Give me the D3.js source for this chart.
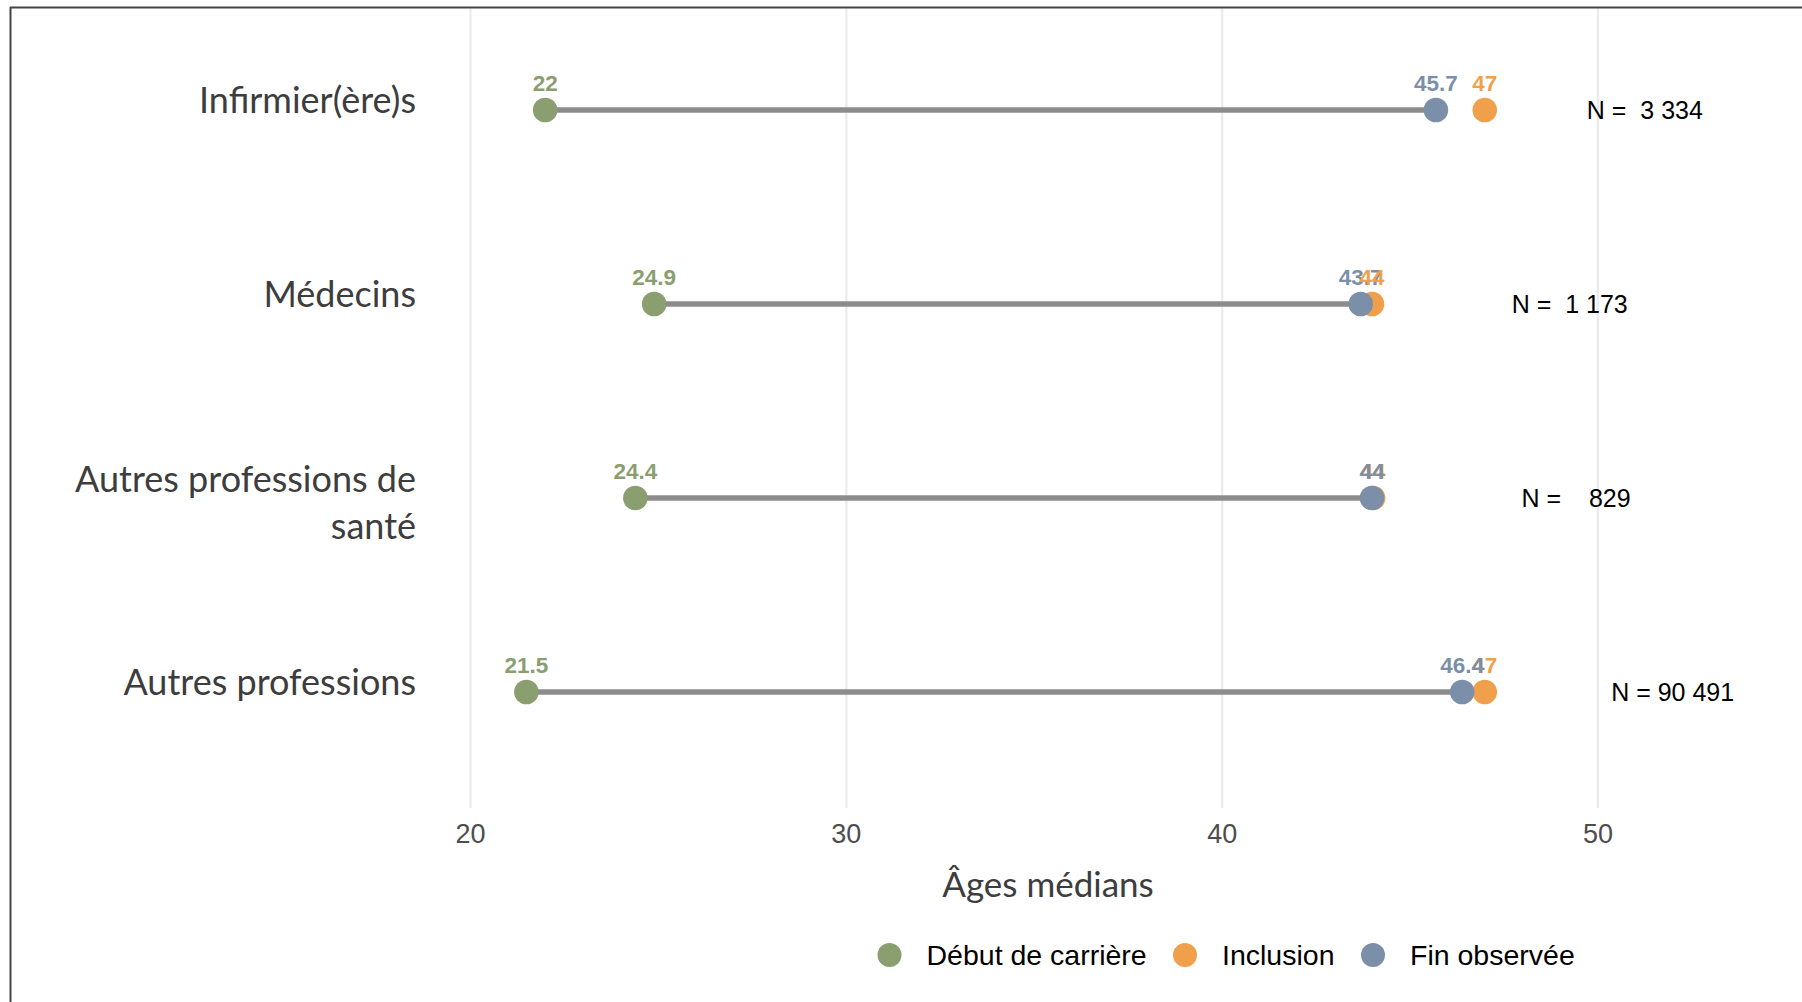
<!DOCTYPE html>
<html>
<head>
<meta charset="utf-8">
<script src="https://cdn.jsdelivr.net/npm/d3@7"></script>
<style>
  html, body { margin: 0; padding: 0; background: #ffffff; }
  svg { display: block; }
</style>
</head>
<body>
<script>
// ---- data ----
const categories = ["Infirmier(ère)s", "Médecins", "Autres professions de santé", "Autres professions"];
const categoryLines = [["Infirmier(ère)s"], ["Médecins"], ["Autres professions de", "santé"], ["Autres professions"]];
const debutCarriere = [22, 24.9, 24.4, 21.5];
const inclusion = [47, 44, 44.03, 47];
const finObservee = [45.7, 43.7, 44, 46.4];
const effectifs = ["3 334", "1 173", "829", "90 491"];
const effectifAnchor = [51.26, 49.26, 49.43, 52.0];
const xTicks = [20, 30, 40, 50];
const seriesNames = ["Début de carrière", "Inclusion", "Fin observée"];
const seriesColors = ["#8a9e70", "#f0a04b", "#7b8fa8"];
const xTitle = "Âges médians";

// ---- layout ----
const W = 1802, H = 1002;
const panelTop = 8, panelBottom = 808;
const x = d3.scaleLinear().domain([20, 50]).range([470, 1597.5]);
const y = d3.scalePoint().domain(categories).range([110, 692]);
const humanist = "Lato, 'Open Sans', sans-serif";
const arial = "'Liberation Sans', Arial, sans-serif";
// draw order of value labels per row (series index), last one ends on top
const labelOrder = [[0, 1, 2], [0, 2, 1], [0, 1, 2], [0, 1, 2]];

const svg = d3.select("body").append("svg").attr("width", W).attr("height", H);
svg.append("rect").attr("width", W).attr("height", H).attr("fill", "#fff");

// gridlines + tick labels
const axis = d3.axisBottom(x).tickValues(xTicks).tickFormat(d3.format("d"))
  .tickSizeInner(-(panelBottom - panelTop)).tickSizeOuter(0).tickPadding(16);
const gAxis = svg.append("g").attr("transform", `translate(0,${panelBottom})`).call(axis);
gAxis.select(".domain").remove();
gAxis.selectAll(".tick line").attr("stroke", "#ebebeb").attr("stroke-width", 2.2);
gAxis.selectAll(".tick text").attr("fill", "#4d4d4d").attr("font-family", arial).attr("font-size", 27);

// frame
svg.append("line").attr("x1", 10).attr("x2", W).attr("y1", 7.5).attr("y2", 7.5).attr("stroke", "#444").attr("stroke-width", 2);
svg.append("line").attr("x1", 10.5).attr("x2", 10.5).attr("y1", 7).attr("y2", H).attr("stroke", "#444").attr("stroke-width", 2);

// category labels
const catG = svg.append("g");
categories.forEach((c, i) => {
  const lines = categoryLines[i];
  const lh = 47.6;
  const t = catG.append("text")
    .attr("x", 416).attr("text-anchor", "end")
    .attr("font-family", humanist).attr("font-size", 36).attr("fill", "#3d3d3d");
  lines.forEach((ln, j) => {
    t.append("tspan").attr("x", 416)
      .attr("y", y(c) + 3 - (lines.length - 1) * 9.5 + j * lh)
      .text(ln);
  });
});

// segments
svg.append("g").selectAll("line").data(categories).join("line")
  .attr("x1", (d, i) => x(debutCarriere[i]))
  .attr("x2", (d, i) => x(finObservee[i]))
  .attr("y1", d => y(d)).attr("y2", d => y(d))
  .attr("stroke", "#8c8c8c").attr("stroke-width", 5.5);

// points: start, inclusion, end (end on top)
const seriesValues = [debutCarriere, inclusion, finObservee];
const ptsG = svg.append("g");
seriesValues.forEach((vals, s) => {
  ptsG.selectAll(null).data(categories).join("circle")
    .attr("cx", (d, i) => x(vals[i])).attr("cy", d => y(d))
    .attr("r", 12.3).attr("fill", seriesColors[s]);
});

// value labels
const fmt = v => String(Math.round(v * 10) / 10);
const labelItems = [];
categories.forEach((c, i) => {
  labelOrder[i].forEach(s => labelItems.push({ c, s, v: seriesValues[s][i] }));
});
svg.append("g").selectAll("text").data(labelItems).join("text")
  .attr("x", d => x(d.v)).attr("y", d => y(d.c) - 19)
  .attr("text-anchor", "middle")
  .attr("font-family", arial).attr("font-weight", "bold").attr("font-size", 22.5)
  .attr("fill", d => seriesColors[d.s])
  .text(d => fmt(d.v));

// N labels
svg.append("g").selectAll("text").data(categories).join("text")
  .attr("x", (d, i) => x(effectifAnchor[i])).attr("y", d => y(d) + 9)
  .attr("text-anchor", "middle")
  .attr("font-family", arial).attr("font-size", 25).attr("fill", "#000")
  .style("white-space", "pre")
  .text((d, i) => "N = " + effectifs[i].padStart(6, " "));

// x title
svg.append("text").attr("x", 1048).attr("y", 897)
  .attr("text-anchor", "middle").attr("font-family", humanist).attr("font-size", 35)
  .attr("fill", "#3d3d3d").text(xTitle);

// legend
const legX = [889.5, 1185, 1373];
const lg = svg.append("g");
seriesNames.forEach((n, s) => {
  lg.append("circle").attr("cx", legX[s]).attr("cy", 955).attr("r", 12).attr("fill", seriesColors[s]);
  lg.append("text").attr("x", legX[s] + 37).attr("y", 964.5)
    .attr("font-family", arial).attr("font-size", 28.5).attr("fill", "#000").text(n);
});
</script>
</body>
</html>
